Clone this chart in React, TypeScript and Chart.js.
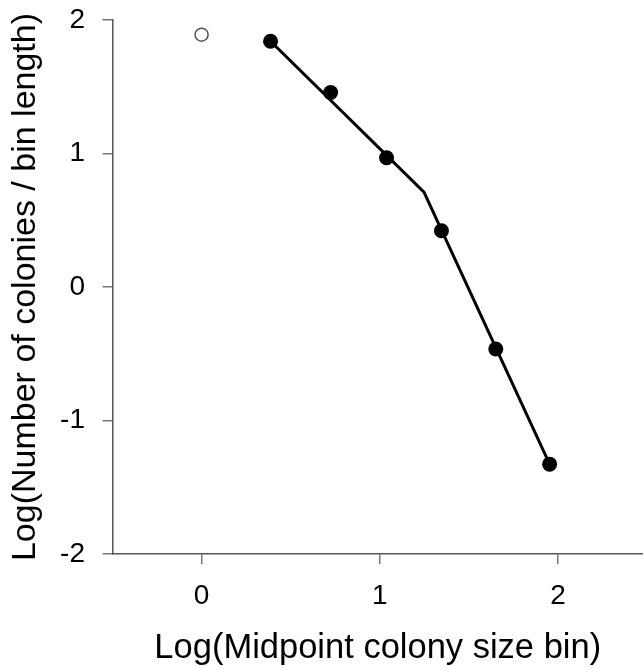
import React, { useEffect, useRef } from "react";
import { Chart, registerables } from "chart.js";

Chart.register(...registerables);

// Data
const excludedX = [0];
const excludedY = [1.89];
const binX = [0.387, 0.724, 1.038, 1.346, 1.651, 1.953];
const binY = [1.841, 1.457, 0.968, 0.421, -0.464, -1.327];
const fitX = [0.387, 1.248, 1.953];
const fitY = [1.841, 0.71, -1.327];
const xTickValues = [0, 1, 2];

const FONT = "'Liberation Sans', Arial, Helvetica, sans-serif";

export default function App() {
  const ref = useRef<HTMLCanvasElement | null>(null);
  useEffect(() => {
    if (!ref.current) return;
    const chart = new Chart(ref.current, {
      type: "scatter",
      data: {
        datasets: [
          {
            label: "fit",
            data: fitX.map((x, i) => ({ x, y: fitY[i] })),
            showLine: true,
            borderColor: "#000",
            borderWidth: 3,
            pointRadius: 0,
            order: 3,
          },
          {
            label: "bins",
            data: binX.map((x, i) => ({ x, y: binY[i] })),
            showLine: false,
            pointRadius: 7.5,
            pointBackgroundColor: "#000",
            pointBorderColor: "#000",
            pointBorderWidth: 0,
            order: 1,
          },
          {
            label: "excluded",
            data: excludedX.map((x, i) => ({ x, y: excludedY[i] })),
            showLine: false,
            pointRadius: 6.5,
            pointBackgroundColor: "#fff",
            pointBorderColor: "#555",
            pointBorderWidth: 1.5,
            order: 2,
          },
        ],
      },
      options: {
        responsive: false,
        animation: false,
        layout: { autoPadding: false, padding: { top: 20, left: 0, right: 0, bottom: 0 } },
        plugins: { legend: { display: false }, tooltip: { enabled: false } },
        scales: {
          x: {
            type: "linear",
            min: -0.5,
            max: 2.477,
            afterBuildTicks: (s: any) => {
              s.ticks = xTickValues.map((v) => ({ value: v }));
            },
            afterFit: (s: any) => {
              s.height = 116;
              s.paddingLeft = 0;
              s.paddingRight = 0;
            },
            border: { display: true, color: "#555", width: 1.5 },
            grid: { display: true, drawOnChartArea: false, tickLength: 10, color: "#777", lineWidth: 1.5 },
            ticks: { color: "#000", padding: 15, font: { family: FONT, size: 28 } },
            title: {
              display: true,
              text: "Log(Midpoint colony size bin)",
              color: "#000",
              font: { family: FONT, size: 34.5 },
              padding: { top: 0, bottom: 1 },
            },
          },
          y: {
            type: "linear",
            min: -2,
            max: 2,
            ticks: { stepSize: 1, color: "#000", padding: 17.5, font: { family: FONT, size: 28 } },
            afterFit: (s: any) => {
              s.width = 112.5;
              s.paddingTop = 0;
              s.paddingBottom = 0;
            },
            border: { display: true, color: "#555", width: 1.5 },
            grid: { display: true, drawOnChartArea: false, tickLength: 10, color: "#777", lineWidth: 1.5 },
            title: {
              display: true,
              text: "Log(Number of colonies / bin length)",
              color: "#000",
              font: { family: FONT, size: 34 },
              padding: { top: 5.5, bottom: 0 },
            },
          },
        },
      },
    });
    return () => chart.destroy();
  }, []);
  return (
    <div style={{ position: "absolute", left: 0, top: 0, width: 643, height: 670, background: "#fff" }}>
      <canvas ref={ref} width={643} height={670} style={{ display: "block" }} />
    </div>
  );
}
